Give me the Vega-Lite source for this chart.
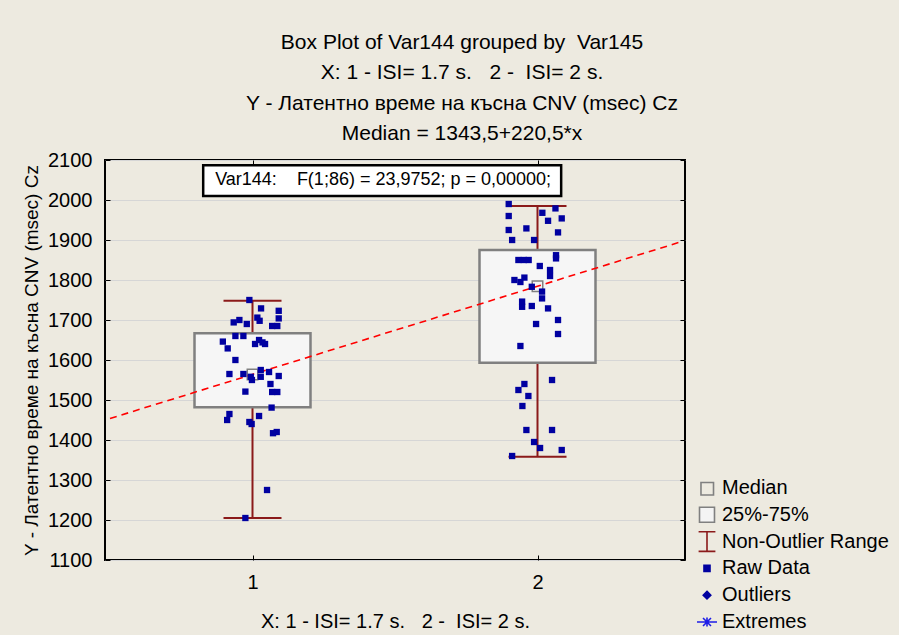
{
  "$schema": "https://vega.github.io/schema/vega-lite/v6.json",
  "width": 580,
  "height": 400,
  "autosize": {"type": "none"},
  "padding": {"left": 105, "top": 160, "right": 214, "bottom": 75},
  "background": "#EDEAE0",
  "title": {
    "text": ["Box Plot of Var144 grouped by\u00a0 Var145", "X: 1 - ISI= 1.7 s.\u00a0\u00a0 2 -\u00a0 ISI= 2 s.", "Y - Латентно време на късна CNV (msec) Cz", "Median = 1343,5+220,5*x"],
    "fontSize": 21, "fontWeight": "normal", "lineHeight": 30.5, "anchor": "middle", "frame": "group", "dx": 67, "offset": 6, "color": "black"
  },
  "datasets": {
    "raw": [
      {"g":1,"x":0.989,"y":1750},{"g":1,"x":1.030,"y":1729},{"g":1,"x":1.092,"y":1723},{"g":1,"x":1.092,"y":1704},{"g":1,"x":0.934,"y":1694},{"g":1,"x":0.954,"y":1700},{"g":1,"x":0.980,"y":1690},{"g":1,"x":1.017,"y":1706},{"g":1,"x":1.025,"y":1698},{"g":1,"x":1.069,"y":1685},{"g":1,"x":1.087,"y":1685},{"g":1,"x":0.940,"y":1660},{"g":1,"x":0.968,"y":1660},{"g":1,"x":0.896,"y":1646},{"g":1,"x":0.913,"y":1629},{"g":1,"x":1.009,"y":1640},{"g":1,"x":1.023,"y":1650},{"g":1,"x":1.035,"y":1644},{"g":1,"x":1.044,"y":1640},{"g":1,"x":0.940,"y":1600},{"g":1,"x":0.919,"y":1565},{"g":1,"x":0.968,"y":1565},{"g":1,"x":0.994,"y":1558},{"g":1,"x":0.998,"y":1550},{"g":1,"x":1.029,"y":1575},{"g":1,"x":1.029,"y":1558},{"g":1,"x":1.058,"y":1570},{"g":1,"x":1.092,"y":1560},{"g":1,"x":1.063,"y":1540},{"g":1,"x":0.975,"y":1521},{"g":1,"x":1.069,"y":1520},{"g":1,"x":1.087,"y":1520},{"g":1,"x":1.067,"y":1481},{"g":1,"x":0.919,"y":1465},{"g":1,"x":0.911,"y":1450},{"g":1,"x":1.023,"y":1460},{"g":1,"x":0.989,"y":1445},{"g":1,"x":0.997,"y":1440},{"g":1,"x":1.072,"y":1417},{"g":1,"x":1.085,"y":1420},{"g":1,"x":1.051,"y":1275},{"g":1,"x":0.975,"y":1205},
      {"g":2,"x":1.899,"y":1990},{"g":2,"x":1.899,"y":1960},{"g":2,"x":2.063,"y":1979},{"g":2,"x":2.017,"y":1968},{"g":2,"x":2.037,"y":1948},{"g":2,"x":2.085,"y":1954},{"g":2,"x":1.899,"y":1925},{"g":2,"x":1.961,"y":1929},{"g":2,"x":2.072,"y":1919},{"g":2,"x":1.911,"y":1900},{"g":2,"x":1.988,"y":1900},{"g":2,"x":2.065,"y":1862},{"g":2,"x":2.065,"y":1854},{"g":2,"x":1.933,"y":1850},{"g":2,"x":1.952,"y":1850},{"g":2,"x":1.969,"y":1850},{"g":2,"x":2.008,"y":1835},{"g":2,"x":2.044,"y":1825},{"g":2,"x":2.044,"y":1810},{"g":2,"x":1.919,"y":1800},{"g":2,"x":1.940,"y":1795},{"g":2,"x":1.954,"y":1806},{"g":2,"x":1.980,"y":1783},{"g":2,"x":2.016,"y":1771},{"g":2,"x":2.016,"y":1754},{"g":2,"x":1.946,"y":1746},{"g":2,"x":1.946,"y":1733},{"g":2,"x":1.980,"y":1735},{"g":2,"x":2.037,"y":1729},{"g":2,"x":1.995,"y":1690},{"g":2,"x":2.072,"y":1700},{"g":2,"x":2.072,"y":1665},{"g":2,"x":1.940,"y":1635},{"g":2,"x":2.051,"y":1550},{"g":2,"x":1.954,"y":1540},{"g":2,"x":1.933,"y":1525},{"g":2,"x":1.968,"y":1510},{"g":2,"x":1.947,"y":1485},{"g":2,"x":1.961,"y":1425},{"g":2,"x":2.051,"y":1425},{"g":2,"x":1.988,"y":1395},{"g":2,"x":2.009,"y":1380},{"g":2,"x":2.085,"y":1375},{"g":2,"x":1.911,"y":1360}
    ],
    "box": [
      {"g":1,"q1":1482,"q3":1667,"lo":1205,"hi":1748,"median":1564},
      {"g":2,"q1":1593,"q3":1875,"lo":1358,"hi":1985,"median":1784.5}
    ],
    "fit": [
      {"x":0.5,"y":1453.75},{"x":2.5,"y":1894.75}
    ],
    "legend": [
      {"item":"Median"},{"item":"25%-75%"},{"item":"Non-Outlier Range"},{"item":"Raw Data"},{"item":"Outliers"},{"item":"Extremes"}
    ]
  },
  "config": {
    "font": "Liberation Sans",
    "view": {"fill": "white", "stroke": "black", "strokeWidth": 2},
    "axis": {"labelColor": "black", "titleColor": "black", "tickColor": "black", "labelFont": "Liberation Sans", "titleFont": "Liberation Sans"}
  },
  "layer": [
    {
      "data": {"name": "box"},
      "mark": {"type": "rule", "color": "#8B1A1A", "strokeWidth": 2},
      "encoding": {
        "x": {"field": "g", "type": "quantitative", "scale": {"domain": [0.5, 2.5], "nice": false, "zero": false},
              "axis": {"orient": "top", "values": [1, 2], "labels": false, "grid": false, "domain": false, "tickSize": -5, "title": null}},
        "y": {"field": "lo", "type": "quantitative", "scale": {"domain": [1100, 2100], "nice": false, "zero": false},
              "axis": {"orient": "right", "values": [1100,1200,1300,1400,1500,1600,1700,1800,1900,2000,2100], "labels": false, "grid": false, "domain": false, "tickSize": -5, "title": null}},
        "y2": {"field": "hi"}
      }
    },
    {
      "data": {"name": "box"},
      "mark": {"type": "tick", "orient": "horizontal", "color": "#8B1A1A", "size": 58, "thickness": 2, "opacity": 1},
      "encoding": {
        "x": {"field": "g", "type": "quantitative", "axis": null},
        "y": {"field": "lo", "type": "quantitative", "axis": null}
      }
    },
    {
      "data": {"name": "box"},
      "mark": {"type": "tick", "orient": "horizontal", "color": "#8B1A1A", "size": 58, "thickness": 2, "opacity": 1},
      "encoding": {
        "x": {"field": "g", "type": "quantitative", "axis": null},
        "y": {"field": "hi", "type": "quantitative", "axis": null}
      }
    },
    {
      "data": {"name": "box"},
      "mark": {"type": "bar", "size": 116, "fill": "#F6F6F6", "stroke": "#808080", "strokeWidth": 2.5},
      "encoding": {
        "x": {"field": "g", "type": "quantitative", "axis": null},
        "y": {"field": "q1", "type": "quantitative", "axis": null},
        "y2": {"field": "q3"}
      }
    },
    {
      "data": {"name": "box"},
      "mark": {"type": "point", "shape": "square", "filled": false, "size": 110, "stroke": "#808080", "strokeWidth": 1.5, "opacity": 1},
      "encoding": {
        "x": {"field": "g", "type": "quantitative", "axis": null},
        "y": {"field": "median", "type": "quantitative", "axis": null}
      }
    },
    {
      "data": {"name": "fit"},
      "mark": {"type": "line", "color": "#FF0000", "strokeWidth": 1.6, "strokeDash": [7, 5]},
      "encoding": {
        "x": {"field": "x", "type": "quantitative", "axis": null},
        "y": {"field": "y", "type": "quantitative", "axis": null}
      }
    },
    {
      "data": {"name": "raw"},
      "mark": {"type": "point", "shape": "square", "filled": true, "size": 40, "color": "#0000A0", "opacity": 1},
      "encoding": {
        "x": {"field": "x", "type": "quantitative",
              "axis": {"orient": "bottom", "values": [1, 2], "format": "d", "grid": false, "domain": false, "tickSize": -5, "labelPadding": 17, "labelFontSize": 20,
                       "title": "X: 1 - ISI= 1.7 s.\u00a0\u00a0 2 -\u00a0 ISI= 2 s.", "titleFontSize": 20, "titleFontWeight": "normal", "titlePadding": 19}},
        "y": {"field": "y", "type": "quantitative",
              "axis": {"orient": "left", "values": [1100,1200,1300,1400,1500,1600,1700,1800,1900,2000,2100], "format": "d", "grid": true, "gridColor": "#D6D6D6", "gridWidth": 1, "domain": false, "tickSize": -5, "labelPadding": 18, "labelFontSize": 20,
                       "title": "Y - Латентно време на късна CNV (msec) Cz", "titleFontSize": 19, "titleFontWeight": "normal", "titlePadding": 6}}
      }
    },
    {
      "data": {"values": [{}]},
      "mark": {"type": "rect", "fill": "white", "stroke": "black", "strokeWidth": 2.5},
      "encoding": {
        "x": {"datum": 0.827, "type": "quantitative", "axis": null},
        "x2": {"datum": 2.083},
        "y": {"datum": 2087, "type": "quantitative", "axis": null},
        "y2": {"datum": 2010}
      }
    },
    {
      "data": {"values": [{}]},
      "mark": {"type": "text", "align": "left", "baseline": "middle", "fontSize": 18, "color": "black", "text": "Var144:\u00a0\u00a0\u00a0 F(1;86) = 23,9752; p = 0,00000;"},
      "encoding": {
        "x": {"datum": 0.869, "type": "quantitative", "axis": null},
        "y": {"datum": 2049, "type": "quantitative", "axis": null}
      }
    },
    {
      "data": {"name": "legend"},
      "transform": [{"filter": "false"}],
      "mark": {"type": "point", "opacity": 1, "size": 196, "strokeWidth": 1.5},
      "encoding": {
        "shape": {"field": "item", "type": "nominal",
                  "scale": {"domain": ["Median","25%-75%","Non-Outlier Range","Raw Data","Outliers","Extremes"],
                            "range": ["M-0.86,-0.79H0.93V1H-0.86ZM0,-1.4M0,1.4","M-1.07,-1.07H1.07V1.07H-1.07ZM0,-1.4M0,1.4","M-1.2,-1.4H1.2M0,-1.4V1.4M-1.2,1.4H1.2","M-0.43,-0.43H0.43V0.43H-0.43ZM0,-1.4M0,1.4","M0,-0.54L0.54,0L0,0.54L-0.54,0ZM0,-1.4M0,1.4","M-1.43,0H1.43M0,-0.64V0.64M-0.57,-0.57L0.57,0.57M-0.57,0.57L0.57,-0.57M0,-1.4M0,1.4"]},
                  "legend": {"orient": "none", "legendX": 592, "legendY": 318, "title": null, "labelFontSize": 20, "labelColor": "black", "labelLimit": 300, "symbolSize": 196, "rowPadding": 0.8, "labelOffset": 5, "symbolStrokeWidth": 1.6, "padding": 0}},
        "fill": {"field": "item", "type": "nominal",
                 "scale": {"domain": ["Median","25%-75%","Non-Outlier Range","Raw Data","Outliers","Extremes"],
                           "range": ["transparent","#F4F4F4","transparent","#0000A0","#0000A0","transparent"]},
                 "legend": {"orient": "none", "legendX": 592, "legendY": 318, "title": null, "labelFontSize": 20, "labelColor": "black", "labelLimit": 300, "symbolSize": 196, "rowPadding": 0.8, "labelOffset": 5, "symbolStrokeWidth": 1.6, "padding": 0}},
        "stroke": {"field": "item", "type": "nominal",
                   "scale": {"domain": ["Median","25%-75%","Non-Outlier Range","Raw Data","Outliers","Extremes"],
                             "range": ["#808080","#808080","#8B1A1A","#0000A0","#0000A0","#1E1EE6"]},
                   "legend": {"orient": "none", "legendX": 592, "legendY": 318, "title": null, "labelFontSize": 20, "labelColor": "black", "labelLimit": 300, "symbolSize": 196, "rowPadding": 0.8, "labelOffset": 5, "symbolStrokeWidth": 1.6, "padding": 0}}
      }
    }
  ]
}
